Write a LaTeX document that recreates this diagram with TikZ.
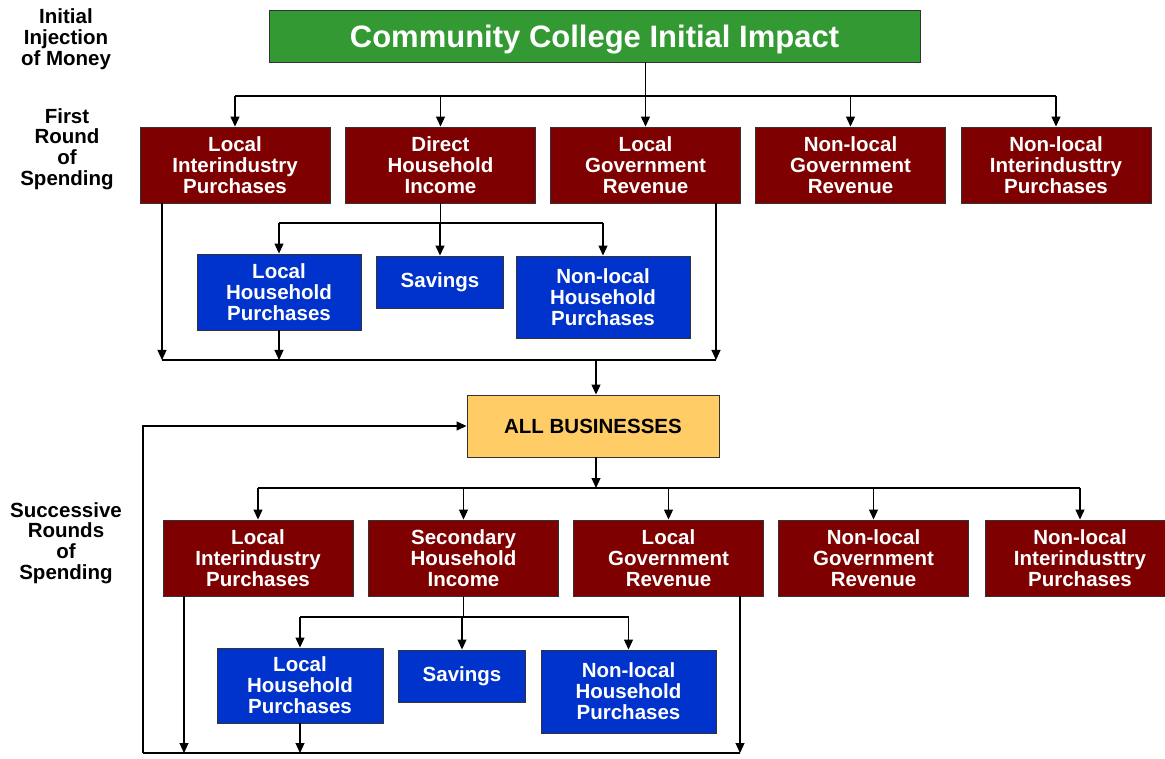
\documentclass[tikz,border=0pt]{standalone}
\usepackage{fontspec}
\setmainfont{Liberation Sans}
\usetikzlibrary{arrows.meta}
\definecolor{myred}{HTML}{7F0000}
\definecolor{myblue}{HTML}{0033CC}
\definecolor{mygreen}{HTML}{339933}
\definecolor{myyellow}{HTML}{FFCC66}
\definecolor{edge}{HTML}{333333}
\begin{document}
\begin{tikzpicture}[x=1pt,y=-1pt,
  box/.style={draw=edge, line width=0.9pt, text=white, align=center, inner sep=0pt,
    font=\bfseries\fontsize{20.5}{21}\selectfont},
  rbox/.style={box, fill=myred, minimum width=190pt, minimum height=76pt},
  bbox/.style={box, fill=myblue},
  lbl/.style={align=center, inner sep=0pt, font=\bfseries\fontsize{20.5}{20.8}\selectfont},
  ln/.style={line width=1.1pt, draw=black},
  arr/.style={ln, -{Triangle[width=9pt,length=10pt]}}]
\useasboundingbox (0,0) rectangle (1165,759);

% left labels
\node[lbl] (l1) at (66,39) {Initial\\Injection\\of Money};
\node[lbl] (l2) at (67,149) {First\\Round\\of\\Spending};
\node[lbl] (l3) at (66,543) {Successive\\Rounds\\of\\Spending};

% top
\node[box, fill=mygreen, minimum width=651pt, minimum height=52pt, text depth=0pt,
  font=\bfseries\fontsize{31}{33}\selectfont] (top) at (594.5,36) {Community College Initial Impact};

% first round
\node[rbox] (r11) at (235,165) {Local\\Interindustry\\Purchases};
\node[rbox] (r12) at (440.5,165) {Direct\\Household\\Income};
\node[rbox] (r13) at (645.5,165) {Local\\Government\\Revenue};
\node[rbox] (r14) at (850.5,165) {Non-local\\Government\\Revenue};
\node[rbox] (r15) at (1056,165) {Non-local\\Interindusttry\\Purchases};

\coordinate (bus1) at (0,96);
\draw[ln] (top.south -| r13.north) -- (r13.north |- bus1);
\draw[ln] (r11.north |- bus1) -- (r15.north |- bus1);
\foreach \n in {r11,r12,r13,r14,r15}
  \draw[arr] (\n.north |- bus1) -- (\n.north);

\node[bbox, minimum width=164pt, minimum height=76pt] (b11) at (279,292) {Local\\Household\\Purchases};
\node[bbox, minimum width=127pt, minimum height=52pt] (b12) at (440,282) {Savings};
\node[bbox, minimum width=174pt, minimum height=82pt] (b13) at (603,297) {Non-local\\Household\\Purchases};

\coordinate (hb1) at (0,223);
\draw[ln] (r12.south) -- (r12.south |- hb1);
\draw[ln] (b11.north |- hb1) -- (b13.north |- hb1);
\foreach \n in {b11,b12,b13}
  \draw[arr] (\n.north |- hb1) -- (\n.north);

\coordinate (c1L) at (162,360);
\coordinate (c1R) at (716,360);
\coordinate (c1M) at (596,360);
\draw[ln] (c1L) -- (c1R);
\draw[arr] (c1L |- r11.south) -- (c1L);
\draw[arr] (c1R |- r13.south) -- (c1R);
\draw[arr] (b11.south) -- (b11.south |- c1L);

% all businesses
\node[box, fill=myyellow, text=black, minimum width=252pt, minimum height=62pt] (all) at (593,426) {ALL BUSINESSES};
\draw[arr] (c1M) -- (c1M |- all.north);

\coordinate (fb) at (143,753);
\draw[arr] (fb) |- (all.west);

% successive rounds
\node[rbox] (r21) at (258,558) {Local\\Interindustry\\Purchases};
\node[rbox] (r22) at (463.5,558) {Secondary\\Household\\Income};
\node[rbox] (r23) at (668.5,558) {Local\\Government\\Revenue};
\node[rbox] (r24) at (873.5,558) {Non-local\\Government\\Revenue};
\node[rbox] (r25) at (1080,558) {Non-local\\Interindusttry\\Purchases};

\coordinate (bus2) at (0,488);
\draw[arr] (all.south -| c1M) -- (c1M |- bus2);
\draw[ln] (r21.north |- bus2) -- (r25.north |- bus2);
\foreach \n in {r21,r22,r23,r24,r25}
  \draw[arr] (\n.north |- bus2) -- (\n.north);

\node[bbox, minimum width=166pt, minimum height=75pt] (b21) at (300,685.5) {Local\\Household\\Purchases};
\node[bbox, minimum width=127pt, minimum height=52pt] (b22) at (462,676) {Savings};
\node[bbox, minimum width=175pt, minimum height=83pt] (b23) at (628.5,691.5) {Non-local\\Household\\Purchases};

\coordinate (hb2) at (0,617);
\draw[ln] (r22.south) -- (r22.south |- hb2);
\draw[ln] (b21.north |- hb2) -- (b23.north |- hb2);
\foreach \n in {b21,b22,b23}
  \draw[arr] (\n.north |- hb2) -- (\n.north);

\coordinate (c2A) at (184,753);
\coordinate (c2R) at (740,753);
\draw[ln] (fb) -- (c2R);
\draw[arr] (c2A |- r21.south) -- (c2A);
\draw[arr] (c2R |- r23.south) -- (c2R);
\draw[arr] (b21.south) -- (b21.south |- c2A);
\end{tikzpicture}
\end{document}
